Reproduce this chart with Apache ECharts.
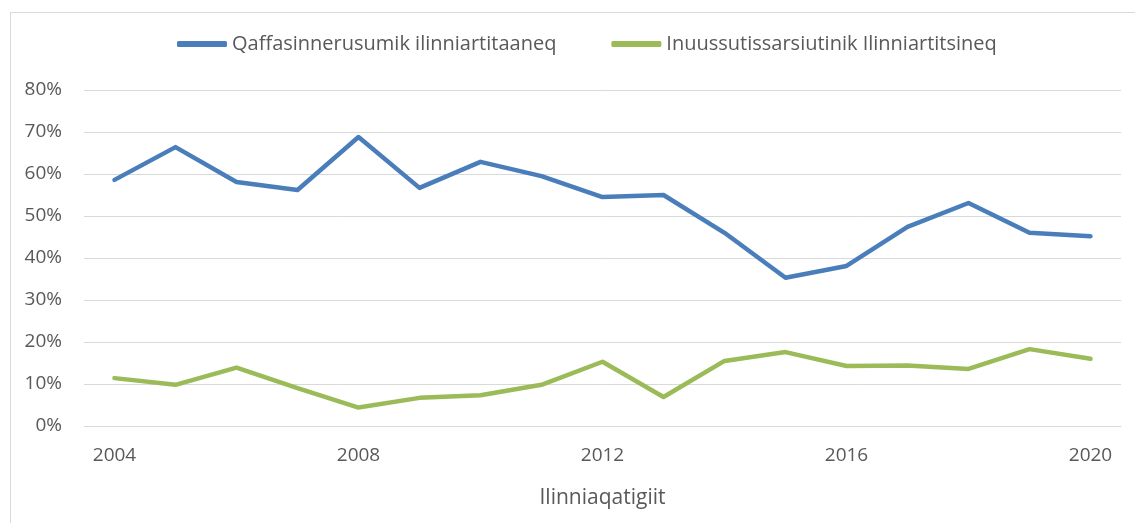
<!DOCTYPE html>
<html>
<head>
<meta charset="utf-8">
<script src="https://cdn.jsdelivr.net/npm/echarts@6/dist/echarts.min.js"></script>
<style>
  html, body { margin: 0; padding: 0; background: #fff; }
  #frame { position: absolute; left: 10px; top: 12px; width: 1200px; height: 600px; border: 1px solid #d9d9d9; }
  #chart { position: absolute; left: 0; top: 0; width: 1135px; height: 523px; }
</style>
</head>
<body>
<div id="frame"></div>
<div id="chart"></div>
<script>
// years on x axis
const years = ['2004', '2005', '2006', '2007', '2008', '2009', '2010', '2011', '2012',
  '2013', '2014', '2015', '2016', '2017', '2018', '2019', '2020'];
// percent values
const qaffasinnerusumik = [58.6, 66.4, 58.1, 56.2, 68.8, 56.7, 62.9, 59.5, 54.5,
  55.0, 46.0, 35.3, 38.1, 47.4, 53.1, 46.0, 45.2];
const inuussutissarsiutinik = [11.4, 9.8, 13.9, 9.0, 4.4, 6.7, 7.3, 9.8, 15.3,
  6.9, 15.5, 17.6, 14.3, 14.4, 13.6, 18.3, 16.0];

const txt = '#595959';
const font = "'Open Sans', 'Noto Sans', sans-serif";

const myChart = echarts.init(document.getElementById('chart'));
myChart.setOption({
  animation: false,
  textStyle: { fontFamily: font },
  legend: {
    top: 29,
    left: 172,
    itemWidth: 50,
    itemHeight: 6,
    itemGap: 55,
    icon: 'roundRect',
    textStyle: { color: txt, fontSize: 20, fontFamily: font },
    data: ['Qaffasinnerusumik ilinniartitaaneq', 'Inuussutissarsiutinik Ilinniartitsineq']
  },
  grid: { left: 84, right: 14, top: 90, bottom: 97, containLabel: false },
  xAxis: {
    type: 'category',
    data: years,
    boundaryGap: true,
    name: 'Ilinniaqatigiit',
    nameLocation: 'middle',
    nameGap: 62,
    nameTextStyle: { color: txt, fontSize: 21, fontFamily: font },
    axisLine: { lineStyle: { color: '#d9d9d9', width: 1 } },
    axisTick: { show: false },
    axisLabel: { interval: 3, color: txt, fontSize: 19, margin: 20, fontFamily: font }
  },
  yAxis: {
    type: 'value',
    min: 0,
    max: 80,
    interval: 10,
    axisLine: { show: false },
    axisTick: { show: false },
    axisLabel: { formatter: '{value}%', color: txt, fontSize: 19, margin: 22, fontFamily: font },
    splitLine: { lineStyle: { color: '#d9d9d9', width: 1 } }
  },
  series: [
    {
      name: 'Qaffasinnerusumik ilinniartitaaneq',
      type: 'line',
      data: qaffasinnerusumik,
      symbol: 'none',
      itemStyle: { color: '#4a7ebb' },
      lineStyle: { color: '#4a7ebb', width: 4.5, cap: 'round', join: 'round' }
    },
    {
      name: 'Inuussutissarsiutinik Ilinniartitsineq',
      type: 'line',
      data: inuussutissarsiutinik,
      symbol: 'none',
      itemStyle: { color: '#9bbb59' },
      lineStyle: { color: '#9bbb59', width: 4.5, cap: 'round', join: 'round' }
    }
  ]
});
window.addEventListener('resize', () => { myChart.resize(); });
</script>
</body>
</html>
